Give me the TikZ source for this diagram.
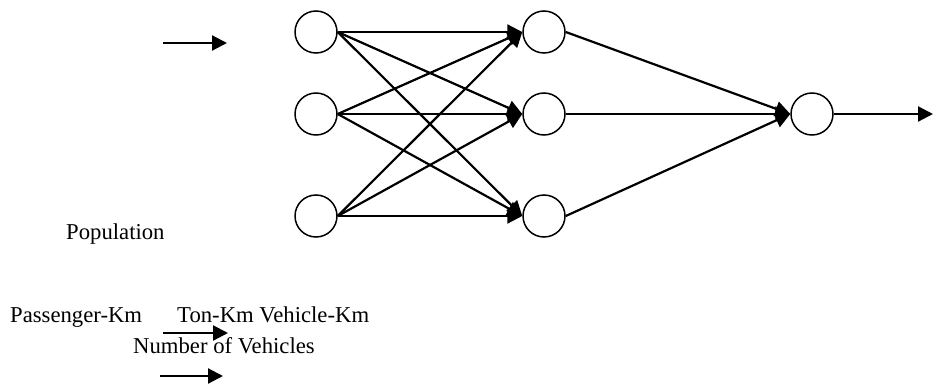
\documentclass[tikz,border=0pt]{standalone}
\usepackage{fontspec}
\setmainfont{Liberation Serif}
\usetikzlibrary{arrows.meta}
\begin{document}
\begin{tikzpicture}[x=1pt,y=-1pt,
  neuron/.style={circle,draw,line width=1.5pt,minimum size=42pt,inner sep=0pt},
  link/.style={line width=2.2pt,-{Triangle[length=15pt,width=15pt]}},
  label/.style={anchor=base west,inner sep=0pt,font=\fontsize{22.7}{27}\selectfont}]
\useasboundingbox (0,0) rectangle (933,385);

% input layer
\node[neuron] (i1) at (316,32) {};
\node[neuron] (i2) at (316,114) {};
\node[neuron] (i3) at (316,216) {};
% hidden layer
\node[neuron] (h1) at (544,32) {};
\node[neuron] (h2) at (544,114) {};
\node[neuron] (h3) at (544,216) {};
% output neuron
\node[neuron] (o) at (812,114) {};
\coordinate (oend) at (933,114);

% fully connected input -> hidden
\foreach \a in {i1,i2,i3}
  \foreach \b in {h1,h2,h3}
    \draw[link] (\a.east) -- (\b.west);
% hidden -> output
\foreach \b in {h1,h2,h3}
  \draw[link] (\b.east) -- (o.west);
\draw[link] (o.east) -- (oend);

% input labels and loose arrows
\coordinate (a1s) at (163,43);  \coordinate (a1e) at (227,43);
\draw[link] (a1s) -- (a1e);
\node[label] (pop) at (66,239) {Population};
\node[label] (pkm) at (10,322) {Passenger-Km};
\node[label] (tkm) at (177,322) {Ton-Km Vehicle-Km};
\coordinate (a2s) at (163,333); \coordinate (a2e) at (228,333);
\draw[link] (a2s) -- (a2e);
\node[label] (nv) at (133,353) {Number of Vehicles};
\coordinate (a3s) at (160,376); \coordinate (a3e) at (223,376);
\draw[link] (a3s) -- (a3e);
\end{tikzpicture}
\end{document}
